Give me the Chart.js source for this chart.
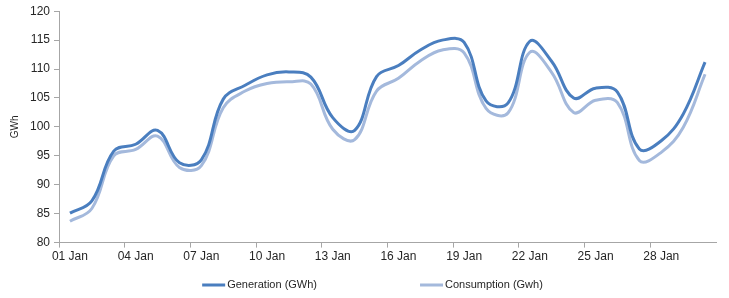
<!DOCTYPE html>
<html>
<head>
<meta charset="utf-8">
<script src="https://cdn.jsdelivr.net/npm/chart.js@4/dist/chart.umd.min.js"></script>
<style>
    html, body { margin: 0; padding: 0; background: #fff; }
    #wrap { width: 729px; height: 298px; }
</style>
</head>
<body>
<div id="wrap"><canvas id="genChart"></canvas></div>
<script>
const days = ["01 Jan", "02 Jan", "03 Jan", "04 Jan", "05 Jan", "06 Jan", "07 Jan", "08 Jan", "09 Jan", "10 Jan",
    "11 Jan", "12 Jan", "13 Jan", "14 Jan", "15 Jan", "16 Jan", "17 Jan", "18 Jan", "19 Jan", "20 Jan",
    "21 Jan", "22 Jan", "23 Jan", "24 Jan", "25 Jan", "26 Jan", "27 Jan", "28 Jan", "29 Jan", "30 Jan"];

const generation = [85.1, 87.2, 95.8, 97.0, 99.4, 93.8, 94.3, 104.8, 107.2, 109.0,
    109.5, 108.6, 101.6, 99.4, 108.7, 110.6, 113.3, 115.0, 114.6, 104.5,
    104.1, 114.8, 111.3, 105.0, 106.7, 106.0, 96.2, 97.6, 102.2, 111.2];

const consumption = [83.7, 85.9, 95.0, 96.1, 98.4, 93.0, 93.3, 103.3, 106.2, 107.5,
    107.8, 107.4, 99.6, 97.8, 106.2, 108.4, 111.4, 113.3, 112.8, 103.2,
    102.4, 112.9, 109.4, 102.5, 104.6, 104.2, 94.2, 95.6, 99.9, 109.1];

const yTicks = { min: 80, max: 120, step: 5 };

const axisGray = "#a6a6a6";
const textColor = "#262626";
const fontFamily = "'Liberation Sans', Arial, sans-serif";

Chart.defaults.font.family = fontFamily;
Chart.defaults.color = textColor;

// excel style legend: wide gap between the two entries
const bottomLegend = {
    id: "bottomLegend",
    afterDraw(chart) {
        const ctx = chart.ctx;
        const sets = chart.data.datasets;
        const gap = 103;
        ctx.save();
        ctx.font = "11px " + fontFamily;
        const widths = sets.map(d => 25 + ctx.measureText(d.label).width);
        const total = widths.reduce((a, b) => a + b, 0) + gap * (sets.length - 1);
        let x = chart.width / 2 - total / 2 + 8;
        const y = chart.height - 13;
        ctx.textBaseline = "middle";
        sets.forEach((d, i) => {
            ctx.fillStyle = d.borderColor;
            ctx.fillRect(x, y - 1.5, 23, 3);
            ctx.fillStyle = textColor;
            ctx.fillText(d.label, x + 25, y);
            x += widths[i] + gap;
        });
        ctx.restore();
    }
};

new Chart(document.getElementById("genChart"), {
    type: "line",
    data: {
        labels: days,
        datasets: [
            { label: "Generation (GWh)", data: generation, borderColor: "#4a7ebf", backgroundColor: "#4a7ebf", borderWidth: 3, tension: 0.4, pointRadius: 0 },
            { label: "Consumption (Gwh)", data: consumption, borderColor: "#a4b9dc", backgroundColor: "#a4b9dc", borderWidth: 3, tension: 0.4, pointRadius: 0 }
        ]
    },
    plugins: [bottomLegend],
    options: {
        responsive: true,
        maintainAspectRatio: false,
        animation: false,
        layout: { padding: { top: 2, right: 13, left: 0, bottom: 32 } },
        plugins: {
            tooltip: { enabled: false },
            legend: { display: false }
        },
        scales: {
            x: {
                offset: true,
                border: { color: axisGray, width: 1 },
                grid: {
                    offset: true,
                    drawOnChartArea: false,
                    tickLength: 5,
                    color: ctx => ctx.index % 3 === 0 ? axisGray : "rgba(0,0,0,0)"
                },
                ticks: {
                    autoSkip: false,
                    maxRotation: 0,
                    font: { size: 12 },
                    padding: 2,
                    callback: function (v, i) { return i % 3 === 0 ? days[i] : ""; }
                }
            },
            y: {
                min: yTicks.min,
                max: yTicks.max,
                border: { color: axisGray, width: 1 },
                grid: { drawOnChartArea: false, tickLength: 5, color: axisGray },
                ticks: { stepSize: yTicks.step, font: { size: 12 }, padding: 4 },
                title: { display: true, text: "GWh", font: { size: 10 }, padding: { top: 9, bottom: 0 } },
                afterFit: s => { s.width = 59; }
            }
        }
    }
});
</script>
</body>
</html>
